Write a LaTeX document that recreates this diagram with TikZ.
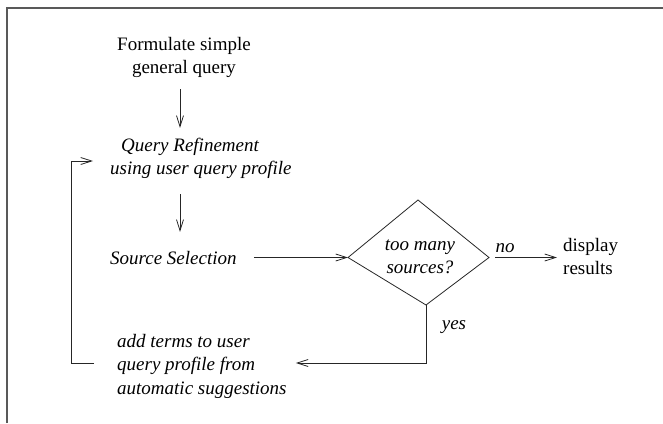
\documentclass[tikz,border=0pt]{standalone}
\usepackage{fontspec}
\setmainfont{Liberation Serif}
\newfontfamily\tms{Liberation Serif}
\usetikzlibrary{arrows.meta}
\tikzset{
  txt/.style={inner sep=0pt, font=\tms\fontsize{19}{23.5}\selectfont},
  itx/.style={inner sep=0pt, font=\tms\fontsize{19}{23.5}\selectfont\itshape},
  conn/.style={line width=0.8pt, draw=black!85},
  arr/.style={conn, -{Straight Barb[length=11pt,width=7pt]}},
  frame/.style={line width=1.5pt, draw=black!65}
}
\begin{document}
\begin{tikzpicture}[x=1pt,y=-1pt]
\useasboundingbox (0,0) rectangle (663,423);
\draw[frame] (7,423) -- (7,8) -- (663,8);

\coordinate (ax) at (180,0);
\coordinate (lx) at (71,0);

\node[txt, align=center] (f) at (184,57.6) {Formulate simple\\general query};
\node[itx, align=left, anchor=west] (q) at (110,158.6) {\hspace*{11pt}Query Refinement\\using user query profile};
\node[itx, anchor=west] (s) at (110,257.8) {Source Selection};
\node[itx, align=left, anchor=west] (a) at (117,366.4) {add terms to user\\query profile from\\automatic suggestions};

\coordinate (dl) at (348,257.5);
\coordinate (dt) at (418,200);
\coordinate (dr) at (489,257.5);
\coordinate (db) at (426,305);
\draw[conn] (dl) -- (dt) -- (dr) -- (db) -- cycle;
\node[itx, align=center] (d) at (420,256.6) {too many\\sources?};

\node[txt, align=left, anchor=west] (r) at (563,256.5) {display\\results};
\node[itx] (no) at (505,248) {no};
\node[itx] (yes) at (454,327) {yes};

\draw[arr, shorten <=11pt, shorten >=10pt] (f.south -| ax) -- (q.north -| ax);
\draw[arr, shorten <=15pt, shorten >=19pt] (q.south -| ax) -- (s.north -| ax);
\draw[arr, shorten <=17pt] (s.east |- dl) -- (dl);
\draw[arr, shorten <=6pt, shorten >=6pt] (dr) -- (r.west |- dr);
\draw[arr, shorten >=9pt] (db) |- ([yshift=3.4pt]a.east);
\draw[arr, shorten <=23pt, shorten >=17pt] ([yshift=3.4pt]a.west) -- ([yshift=3.4pt]a.west -| lx) -- ([yshift=-2.4pt]q.west -| lx) -- ([yshift=-2.4pt]q.west);
\end{tikzpicture}
\end{document}
